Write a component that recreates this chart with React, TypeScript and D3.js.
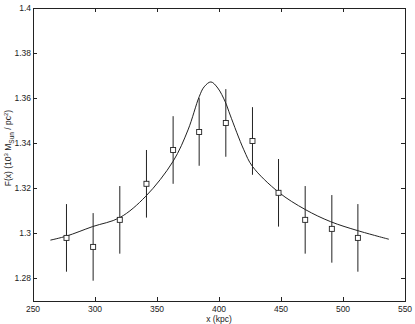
import * as d3 from "d3";
import React, { useEffect, useRef } from "react";

// measured points (x in kpc) with symmetric error bars
const pointX = [277, 298.5, 320, 341.5, 363, 384, 405.5, 427, 448, 469.5, 491, 512];
const pointY = [1.298, 1.294, 1.306, 1.322, 1.337, 1.345, 1.349, 1.341, 1.318, 1.306, 1.302, 1.298];
const pointErr = [0.015, 0.015, 0.015, 0.015, 0.015, 0.015, 0.015, 0.015, 0.015, 0.015, 0.015, 0.015];

// fitted curve
const curveX = [264, 277, 298, 320, 341, 363, 375, 384, 388, 393.5, 399, 405, 409, 420, 427, 448, 469.5, 490, 512, 537];
const curveY = [1.297, 1.2988, 1.303, 1.307, 1.3165, 1.332, 1.3459, 1.3606, 1.365, 1.3672, 1.3645, 1.3584, 1.3525, 1.3371, 1.3297, 1.3183, 1.3106, 1.3052, 1.3012, 1.2974];

const xTicks = [250, 300, 350, 400, 450, 500, 550];
const yTicks = [1.28, 1.3, 1.32, 1.34, 1.36, 1.38, 1.4];

const W = 415;
const H = 324;
const margin = { left: 33, top: 8, right: 10, bottom: 23 };

const App = () => {
  const ref = useRef<SVGSVGElement>(null);

  useEffect(() => {
    const svg = d3.select(ref.current);
    svg.selectAll("*").remove();

    const x = d3.scaleLinear().domain([250, 550]).range([margin.left, W - margin.right]);
    const y = d3.scaleLinear().domain([1.27, 1.4]).range([H - margin.bottom, margin.top]);
    const font = "'Liberation Sans', Arial, sans-serif";
    const ink = "#222";

    // frame
    svg
      .append("rect")
      .attr("x", x(250) + 0.5)
      .attr("y", y(1.4) + 0.5)
      .attr("width", x(550) - x(250))
      .attr("height", y(1.27) - y(1.4))
      .attr("fill", "none")
      .attr("stroke", ink)
      .attr("stroke-width", 1);

    const tickLen = 4;
    // x ticks, bottom and top, pointing inward
    xTicks.forEach((t) => {
      const px = Math.round(x(t)) + 0.5;
      svg.append("line").attr("x1", px).attr("x2", px)
        .attr("y1", y(1.27)).attr("y2", y(1.27) - tickLen).attr("stroke", ink);
      svg.append("line").attr("x1", px).attr("x2", px)
        .attr("y1", y(1.4)).attr("y2", y(1.4) + tickLen).attr("stroke", ink);
      svg.append("text")
        .attr("x", x(t))
        .attr("y", y(1.27) + 11)
        .attr("text-anchor", "middle")
        .attr("font-family", font)
        .attr("font-size", 8.5)
        .attr("fill", ink)
        .text(String(t));
    });

    yTicks.forEach((t) => {
      const py = Math.round(y(t)) + 0.5;
      svg.append("line").attr("x1", x(250)).attr("x2", x(250) + tickLen)
        .attr("y1", py).attr("y2", py).attr("stroke", ink);
      svg.append("line").attr("x1", x(550)).attr("x2", x(550) - tickLen)
        .attr("y1", py).attr("y2", py).attr("stroke", ink);
      svg.append("text")
        .attr("x", x(250) - 2)
        .attr("y", y(t) + 3)
        .attr("text-anchor", "end")
        .attr("font-family", font)
        .attr("font-size", 8.5)
        .attr("fill", ink)
        .text(d3.format("~g")(t));
    });

    // fitted curve
    const line = d3
      .line<number>()
      .x((d, i) => x(curveX[i]))
      .y((d) => y(d))
      .curve(d3.curveCatmullRom);
    svg.append("path")
      .attr("d", line(curveY))
      .attr("fill", "none")
      .attr("stroke", ink)
      .attr("stroke-width", 1);

    // error bars and squares
    pointX.forEach((px, i) => {
      const cx = x(px);
      svg.append("line")
        .attr("x1", cx).attr("x2", cx)
        .attr("y1", y(pointY[i] - pointErr[i]))
        .attr("y2", y(pointY[i] + pointErr[i]))
        .attr("stroke", ink)
        .attr("stroke-width", 1);
      svg.append("rect")
        .attr("x", cx - 2.5)
        .attr("y", y(pointY[i]) - 2.5)
        .attr("width", 5)
        .attr("height", 5)
        .attr("fill", "white")
        .attr("stroke", ink)
        .attr("stroke-width", 0.9);
    });

    // axis labels
    svg.append("text")
      .attr("x", x(400))
      .attr("y", H - 2)
      .attr("text-anchor", "middle")
      .attr("font-family", font)
      .attr("font-size", 8.5)
      .attr("fill", ink)
      .text("x (kpc)");

    const yl = svg.append("text")
      .attr("transform", `translate(11,148) rotate(-90)`)
      .attr("text-anchor", "middle")
      .attr("font-family", font)
      .attr("font-size", 8.5)
      .attr("fill", ink);
    yl.append("tspan").text("F(x)  (10");
    yl.append("tspan").attr("dy", -3).attr("font-size", 6).text("3");
    yl.append("tspan").attr("dy", 3).text(" M");
    yl.append("tspan").attr("dy", 2.5).attr("font-size", 6.5).text("Sun");
    yl.append("tspan").attr("dy", -2.5).text(" / pc");
    yl.append("tspan").attr("dy", -3).attr("font-size", 6).text("2");
    yl.append("tspan").attr("dy", 3).text(")");
  }, []);

  return (
    <svg
      ref={ref}
      width={W}
      height={H}
      style={{ position: "absolute", left: 0, top: 0, background: "white" }}
    />
  );
};

export default App;
